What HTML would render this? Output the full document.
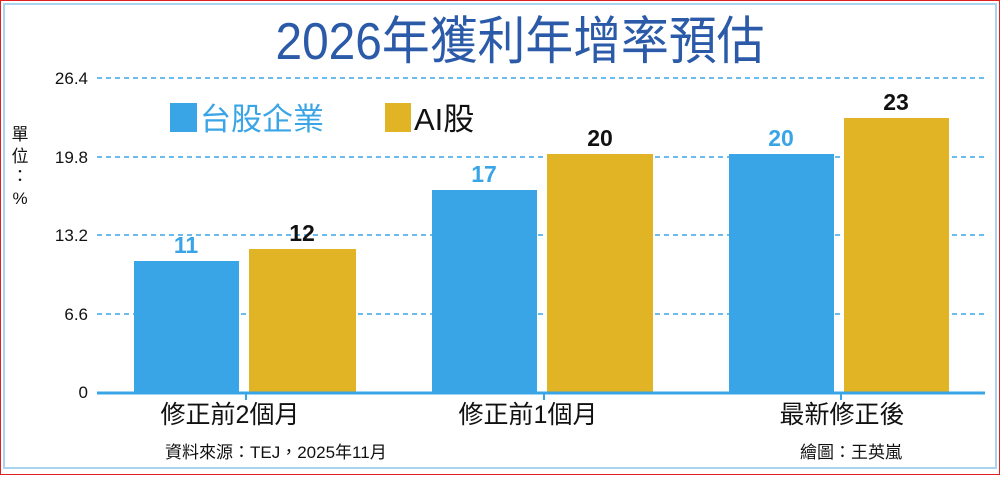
<!DOCTYPE html>
<html><head><meta charset="utf-8"><style>
body{margin:0;width:1000px;height:475px;overflow:hidden;background:#fff}
</style></head><body>
<svg width="1000" height="475" xmlns="http://www.w3.org/2000/svg" font-family="'Liberation Sans','Noto Sans CJK TC',sans-serif">
<rect x="0.5" y="0.5" width="999" height="474" fill="#fff" stroke="#e02020" stroke-width="1"/>
<rect x="4" y="4" width="992" height="464" fill="none" stroke="#a8d4ef" stroke-width="2"/>
<text x="520" y="59" text-anchor="middle" font-size="52" fill="#2a5aa8" transform="translate(520,0) scale(0.92,1) translate(-520,0)">2026年獲利年增率預估</text>
<g stroke="#3aa5e6" stroke-width="1.5" stroke-dasharray="5,4">
<line x1="97" y1="78" x2="985" y2="78"/><line x1="97" y1="157" x2="985" y2="157"/>
<line x1="97" y1="235" x2="985" y2="235"/><line x1="97" y1="314" x2="985" y2="314"/></g>
<g font-size="17" fill="#111" text-anchor="end">
<text x="88" y="84">26.4</text><text x="88" y="163">19.8</text><text x="88" y="241">13.2</text><text x="88" y="320">6.6</text><text x="88" y="398">0</text></g>
<g font-size="17" fill="#111" text-anchor="middle"><text x="20" y="140">單</text><text x="20" y="162">位</text><text x="20" y="182">：</text><text x="20" y="204">%</text></g>
<rect x="170" y="103" width="27" height="29" fill="#3aa5e6"/>
<text x="200" y="130" font-size="31" fill="#3aa5e6">台股企業</text>
<rect x="385" y="103" width="26" height="29" fill="#e0b424"/>
<text x="414" y="130" font-size="31" fill="#111">AI股</text>
<g fill="#3aa5e6"><rect x="134" y="261" width="105" height="131"/><rect x="432" y="190" width="105" height="202"/><rect x="729" y="154" width="105" height="238"/></g>
<g fill="#e0b424"><rect x="249" y="249" width="107" height="143"/><rect x="547" y="154" width="106" height="238"/><rect x="844" y="118" width="105" height="274"/></g>
<g font-size="23" font-weight="bold" text-anchor="middle">
<text x="186" y="253" fill="#3aa5e6">11</text><text x="302" y="241" fill="#111">12</text>
<text x="484" y="182" fill="#3aa5e6">17</text><text x="600" y="146" fill="#111">20</text>
<text x="781" y="146" fill="#3aa5e6">20</text><text x="896" y="110" fill="#111">23</text></g>
<line x1="97" y1="393" x2="985" y2="393" stroke="#3aa5e6" stroke-width="3"/>
<g stroke="#3aa5e6" stroke-width="2"><line x1="246" y1="393" x2="246" y2="400"/><line x1="544" y1="393" x2="544" y2="400"/><line x1="841" y1="393" x2="841" y2="400"/></g>
<g font-size="25" fill="#111" text-anchor="middle">
<text x="230" y="423">修正前2個月</text><text x="528" y="423">修正前1個月</text><text x="842" y="423">最新修正後</text></g>
<text x="165" y="458" font-size="17" fill="#111">資料來源：TEJ，2025年11月</text>
<text x="800" y="458" font-size="17" fill="#111">繪圖：王英嵐</text>
</svg>
</body></html>
